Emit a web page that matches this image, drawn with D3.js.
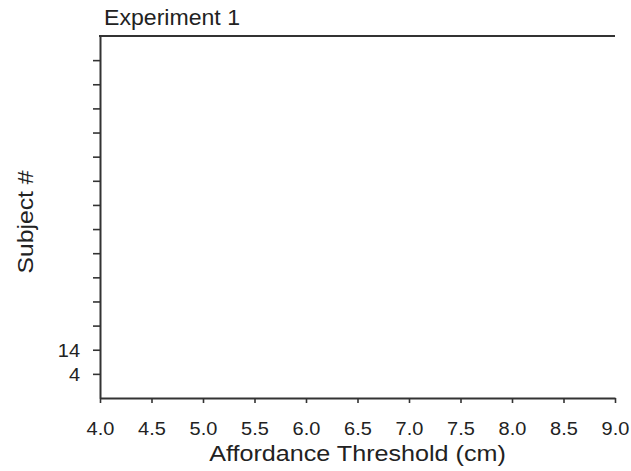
<!DOCTYPE html>
<html>
<head>
<meta charset="utf-8">
<script src="https://cdn.jsdelivr.net/npm/d3@7"></script>
<style>
  body { margin: 0; background: #fff; }
  text { font-family: "Liberation Sans", Arial, Helvetica, sans-serif; fill: #222; }
</style>
</head>
<body>
<script>
// Subjects, bottom to top (only the first two carry a label in the figure)
var subjects = ["4", "14", "", "", "", "", "", "", "", "", "", "", "", ""];
// x tick values (cm)
var xTicks = [4.0, 4.5, 5.0, 5.5, 6.0, 6.5, 7.0, 7.5, 8.0, 8.5, 9.0];
var xDomain = [4.0, 9.0];
var chartTitle = "Experiment 1";
var xTitle = "Affordance Threshold (cm)";
var yTitle = "Subject #";

var w = 631, h = 471;
var plotL = 100, plotR = 615, plotT = 36, plotB = 398;
var axisColor = "#333";

var svg = d3.select("body").append("svg")
    .attr("width", w)
    .attr("height", h);

var x = d3.scaleLinear().domain(xDomain).range([plotL, plotR]);
var y = d3.scaleLinear().domain([0, subjects.length + 1]).range([plotB, plotT]);

// top frame line (no right border in the figure)
svg.append("line")
    .attr("x1", plotL - 1).attr("x2", plotR)
    .attr("y1", plotT).attr("y2", plotT)
    .attr("stroke", axisColor).attr("stroke-width", 2);

var xAxis = d3.axisBottom(x)
    .tickValues(xTicks)
    .tickFormat(d3.format(".1f"))
    .tickSize(5)
    .tickSizeOuter(0);

var gx = svg.append("g")
    .attr("transform", "translate(0," + plotB + ")")
    .call(xAxis);

var yAxis = d3.axisLeft(y)
    .tickValues(d3.range(1, subjects.length + 1))
    .tickFormat(function(d){ return subjects[d - 1]; })
    .tickSize(7)
    .tickSizeOuter(0);

var gy = svg.append("g")
    .attr("transform", "translate(" + plotL + ",0)")
    .call(yAxis);

[gx, gy].forEach(function(g){
    g.select(".domain").attr("stroke", axisColor).attr("stroke-width", 2);
    g.selectAll(".tick line").attr("stroke", axisColor).attr("stroke-width", 1.6);
    g.selectAll(".tick text")
        .style("font-family", "'Liberation Sans', Arial, sans-serif")
        .style("font-size", "18.5px")
        .attr("fill", "#222");
});

// x tick labels: slightly wide lettering, as in the figure
gx.selectAll(".tick text")
    .attr("y", 0).attr("dy", 0)
    .attr("transform", "translate(0,37) scale(1.08,1)");

gy.selectAll(".tick text")
    .attr("x", 0).attr("dy", "0.36em")
    .attr("transform", "translate(-20,0) scale(1.08,1)");

// chart title
svg.append("text")
    .attr("transform", "translate(104,25) scale(1.05,1)")
    .style("font-size", "22px")
    .text(chartTitle);

// x axis title
svg.append("text")
    .attr("transform", "translate(" + ((plotL + plotR) / 2) + ",461) scale(1.17,1)")
    .attr("text-anchor", "middle")
    .style("font-size", "21.5px")
    .text(xTitle);

// y axis title
svg.append("text")
    .attr("transform", "translate(33,222) rotate(-90) scale(1.15,1)")
    .attr("text-anchor", "middle")
    .style("font-size", "21.5px")
    .text(yTitle);
</script>
</body>
</html>
